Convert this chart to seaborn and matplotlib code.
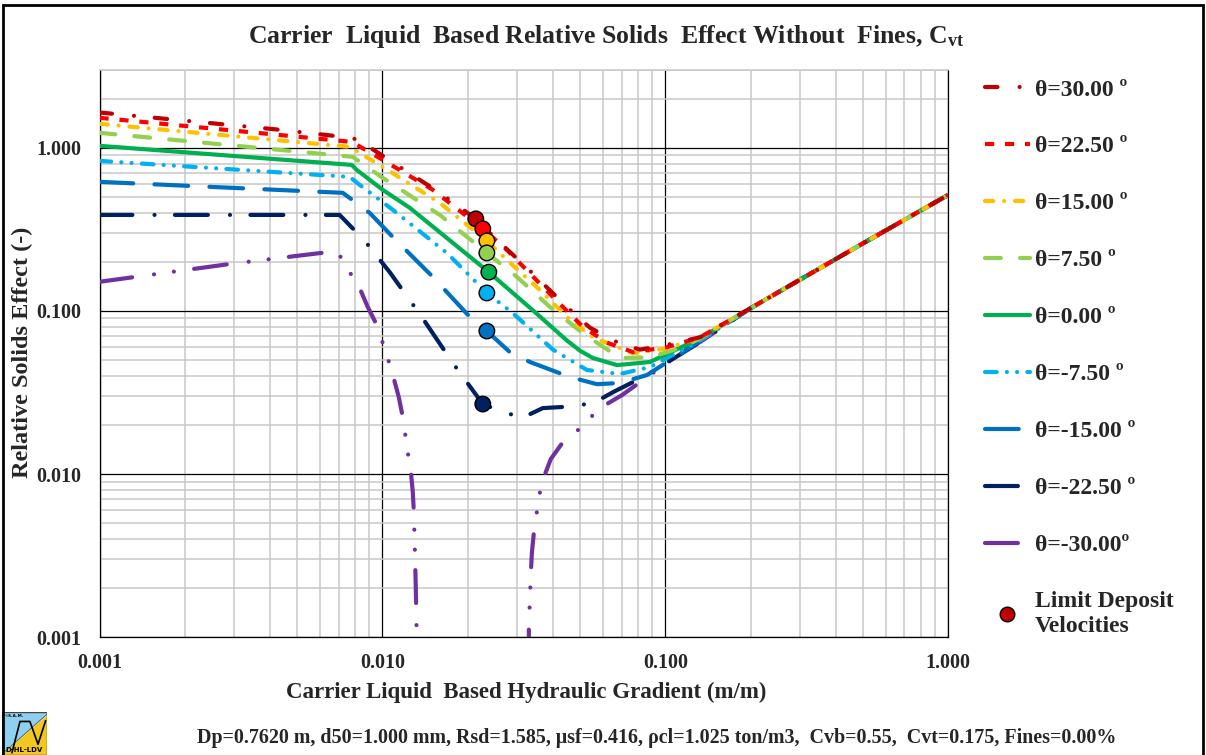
import numpy as np
import pandas as pd
import matplotlib
matplotlib.use("Agg")
import matplotlib.pyplot as plt
import seaborn as sns
from matplotlib.lines import Line2D
from matplotlib.patches import Rectangle, Polygon
from matplotlib.ticker import FixedLocator, NullFormatter, LogLocator

# ---------------- data ----------------
theta_labels = ["θ=30.00 º", "θ=22.50 º", "θ=15.00 º", "θ=7.50 º", "θ=0.00 º",
                "θ=-7.50 º", "θ=-15.00 º", "θ=-22.50 º", "θ=-30.00º"]
colors = ["#C00000", "#FF0000", "#FFC000", "#92D050", "#00B050",
          "#00B0F0", "#0070C0", "#002060", "#7030A0"]

tail_x = [0.2, 0.3, 0.5, 1.0]
tail_y = [0.104, 0.156, 0.26, 0.515]

x_p30 = [0.001, 0.00416, 0.00779, 0.00831, 0.00978, 0.01151, 0.01595, 0.02138, 0.02537, 0.0324, 0.04485, 0.05411, 0.06911, 0.08133, 0.1013, 0.1326]
y_p30 = [1.647, 1.30, 1.152, 1.104, 0.919, 0.764, 0.530, 0.367, 0.273, 0.184, 0.106, 0.079, 0.063, 0.058, 0.062, 0.069]

x_p22 = [0.001, 0.00779, 0.01002, 0.01506, 0.02263, 0.02752, 0.04003, 0.0511, 0.06214, 0.07683, 0.1013, 0.1326]
y_p22 = [1.528, 1.088, 0.844, 0.553, 0.319, 0.237, 0.122, 0.080, 0.064, 0.056, 0.060, 0.069]

x_p15 = [0.001, 0.00766, 0.01002, 0.01595, 0.02339, 0.02752, 0.03515, 0.04485, 0.05546, 0.07683, 0.1013, 0.1326]
y_p15 = [1.404, 1.014, 0.764, 0.460, 0.269, 0.206, 0.140, 0.092, 0.069, 0.055, 0.059, 0.069]

x_p7 = [0.001, 0.00785, 0.01002, 0.01595, 0.02339, 0.02985, 0.03906, 0.0511, 0.06911, 0.08822, 0.1154, 0.1326]
y_p7 = [1.236, 0.881, 0.655, 0.388, 0.227, 0.162, 0.106, 0.073, 0.0515, 0.052, 0.060, 0.068]

x_0 = [0.001, 0.00779, 0.00811, 0.01002, 0.01249, 0.02377, 0.03402, 0.04485, 0.05, 0.05546, 0.06745, 0.08822, 0.1326]
y_0 = [1.029, 0.786, 0.733, 0.553, 0.429, 0.173, 0.101, 0.066, 0.057, 0.0515, 0.0466, 0.0487, 0.068]

x_m7 = [0.001, 0.00766, 0.00831, 0.01088, 0.01689, 0.02339, 0.0289, 0.04003, 0.0528, 0.06911, 0.08822, 0.1326]
y_m7 = [0.832, 0.664, 0.593, 0.417, 0.227, 0.129, 0.097, 0.058, 0.0435, 0.0411, 0.0453, 0.066]

x_m15 = [0.001, 0.00724, 0.00766, 0.00902, 0.01088, 0.01506, 0.02036, 0.02339, 0.0282, 0.0332, 0.04596, 0.05728, 0.06911, 0.0861, 0.1326]
y_m15 = [0.619, 0.530, 0.493, 0.399, 0.284, 0.162, 0.092, 0.0754, 0.056, 0.0487, 0.0394, 0.0356, 0.0362, 0.0405, 0.0655]

x_m22 = [0.001, 0.00706, 0.00866, 0.01061, 0.01377, 0.01773, 0.02263, 0.02707, 0.03161, 0.0369, 0.04868, 0.05728, 0.06528, 0.0861, 0.1326]
y_m22 = [0.388, 0.388, 0.269, 0.173, 0.092, 0.048, 0.0269, 0.0237, 0.0224, 0.0254, 0.0261, 0.028, 0.0318, 0.0405, 0.0645]

x_m30a = [0.001, 0.00288, 0.00689, 0.00724, 0.00766, 0.00831, 0.00887, 0.00955, 0.01044, 0.01096, 0.01142, 0.0118, 0.01229, 0.0126, 0.0128, 0.01291, 0.01301, 0.01312, 0.01322, 0.01327]
y_m30a = [0.151, 0.194, 0.233, 0.205, 0.173, 0.138, 0.106, 0.082, 0.0515, 0.0388, 0.0297, 0.0224, 0.0136, 0.0104, 0.0078, 0.0059, 0.0036, 0.0020, 0.00099, 0.0007]

x_m30b = [0.0329, 0.03293, 0.03347, 0.03375, 0.0343, 0.03515, 0.03602, 0.03721, 0.03938, 0.04343, 0.04907, 0.05871, 0.07025, 0.0904, 0.1154, 0.1326]
y_m30b = [0.0007, 0.00115, 0.0025, 0.0033, 0.0044, 0.0059, 0.0077, 0.0096, 0.0124, 0.0157, 0.0186, 0.0254, 0.0305, 0.0417, 0.0576, 0.0645]

ldv_x = [0.02138, 0.02263, 0.02339, 0.02339, 0.02377, 0.02339, 0.02339, 0.02263]
ldv_y = [0.367, 0.319, 0.269, 0.227, 0.173, 0.129, 0.0754, 0.0269]

tick_vals = [0.001, 0.01, 0.1, 1.0]
tick_labels = ["0.001", "0.010", "0.100", "1.000"]

# ---------------- style ----------------
sns.set_theme(style="white")
plt.rcParams['font.family'] = ['Liberation Serif', 'DejaVu Serif']
plt.rcParams['font.weight'] = 'bold'
plt.rcParams['mathtext.fontset'] = 'custom'
plt.rcParams['mathtext.rm'] = 'Liberation Serif:bold'
plt.rcParams['mathtext.it'] = 'Liberation Serif:bold'
plt.rcParams['mathtext.bf'] = 'Liberation Serif:bold'

W, H = 1206, 755
fig = plt.figure(figsize=(W / 100, H / 100), dpi=100)
fig.patch.set_facecolor("white")

L, R, T, B = 99.5, 948.3, 70.0, 637.3
ax = fig.add_axes([L / W, 1 - B / H, (R - L) / W, (B - T) / H])
ax.set_xscale("log")
ax.set_yscale("log")

LW = 3.0
styles = [
    (0, (3.0, 5.3, 0.01, 5.0)),
    (0, (2.2, 2.6)),
    (0, (2.0, 2.6, 0.01, 2.6)),
    (0, (3.8, 4.6)),
    "-",
    (0, (2.8, 2.45, 0.01, 2.45, 0.01, 2.45)),
    (0, (8.1, 5.1)),
    (0, (7.9, 5.3, 0.01, 4.9)),
    (0, (7.9, 5.3, 0.01, 4.8, 0.01, 4.9)),
]
caps = ["round", "butt", "round", "round", "round", "round", "round", "round", "round"]

curves = [(x_p30, y_p30), (x_p22, y_p22), (x_p15, y_p15), (x_p7, y_p7), (x_0, y_0),
          (x_m7, y_m7), (x_m15, y_m15), (x_m22, y_m22), (x_m30a, y_m30a)]

order = list(range(9))[::-1]
for i in order:
    xs, ys = curves[i]
    if i < 8:
        xs = list(xs) + tail_x
        ys = list(ys) + tail_y
    sns.lineplot(x=xs, y=ys, ax=ax, color=colors[i], lw=LW, linestyle=styles[i],
                 sort=False, estimator=None, label=theta_labels[i],
                 dash_capstyle=caps[i], solid_capstyle="round", solid_joinstyle="round",
                 zorder=3)
    if i == 8:
        sns.lineplot(x=list(x_m30b) + tail_x, y=list(y_m30b) + tail_y, ax=ax,
                     color=colors[i], lw=LW, linestyle=styles[i], sort=False,
                     estimator=None, dash_capstyle="round", zorder=3)

ldv_names = theta_labels[:8]
sns.scatterplot(x=ldv_x, y=ldv_y, hue=ldv_names, hue_order=ldv_names,
                palette=colors[:8], s=125, edgecolor="black", linewidth=1.0,
                legend=False, ax=ax, zorder=6)

if ax.get_legend() is not None:
    ax.get_legend().remove()

ax.set_xlim(0.001, 1.0)
ax.set_ylim(0.001, 3.0)

ax.xaxis.set_major_locator(FixedLocator(tick_vals))
ax.yaxis.set_major_locator(FixedLocator(tick_vals))
ax.set_xticklabels(tick_labels)
ax.set_yticklabels(tick_labels)
ax.xaxis.set_minor_locator(LogLocator(base=10, subs=np.arange(2, 10), numticks=20))
ax.yaxis.set_minor_locator(LogLocator(base=10, subs=np.arange(2, 10), numticks=20))
ax.xaxis.set_minor_formatter(NullFormatter())
ax.yaxis.set_minor_formatter(NullFormatter())
ax.tick_params(which="both", length=0)
ax.tick_params(axis="x", labelsize=14.5, pad=11)
ax.tick_params(axis="y", labelsize=14.5, pad=13)
for lab in ax.get_xticklabels() + ax.get_yticklabels():
    lab.set_fontweight("bold")

ax.set_axisbelow(True)
ax.grid(which="minor", color="#c8c8c8", lw=1.1)
ax.grid(which="major", color="black", lw=0.9)
for s in ["left", "bottom", "right"]:
    ax.spines[s].set_color("black")
    ax.spines[s].set_linewidth(0.9)
ax.spines["top"].set_color("#c8c8c8")
ax.spines["top"].set_linewidth(1.1)
ax.set_xlabel("")
ax.set_ylabel("")

# ---------------- texts ----------------
fig.text(606 / W, 1 - 37 / H, r"Carrier  Liquid  Based Relative Solids  Effect Without  Fines, C$_{\mathrm{vt}}$",
         ha="center", va="center", fontsize=18.5, fontweight="bold")
fig.text(526 / W, 1 - 692 / H, "Carrier Liquid  Based Hydraulic Gradient (m/m)",
         ha="center", va="center", fontsize=16.5, fontweight="bold")
fig.text(22 / W, 1 - 352 / H, "Relative Solids Effect (-)", rotation=90,
         ha="center", va="center", fontsize=17.5, fontweight="bold")
fig.text(657 / W, 1 - 738 / H,
         "Dp=0.7620 m, d50=1.000 mm, Rsd=1.585, μsf=0.416, ρcl=1.025 ton/m3,  Cvb=0.55,  Cvt=0.175, Fines=0.00%",
         ha="center", va="center", fontsize=14.4, fontweight="bold")

# ---------------- legend ----------------
handles = []
for i in range(9):
    handles.append(Line2D([], [], color=colors[i], lw=LW, linestyle=styles[i],
                          dash_capstyle=caps[i], solid_capstyle="round"))
handles.append(Line2D([], [], marker="o", ls="none", markersize=10.5,
                      markerfacecolor="#C00000", markeredgecolor="black", markeredgewidth=1.0))
labels = theta_labels + ["Limit Deposit\nVelocities"]
fig.legend(handles, labels, loc="upper left", bbox_to_anchor=(985 / W, 1 - 79 / H),
           frameon=False, prop={"family": "Liberation Serif", "weight": "bold", "size": 17},
           handlelength=1.9, handletextpad=0.2, labelspacing=1.5, borderpad=0, borderaxespad=0)

# ---------------- frame & logo ----------------
fig.patches.append(Rectangle((3 / W, -0.05), 1200 / W, 1.05 - 5 / H, transform=fig.transFigure,
                             fill=False, edgecolor="black", lw=2.0, zorder=0))

lax = fig.add_axes([2 / W, 0, 45 / W, 43 / H])
lax.set_xlim(0, 1)
lax.set_ylim(0, 1)
lax.axis("off")
lax.add_patch(Polygon([[0, 0], [0, 1], [1, 1], [1, 0.92]], closed=True, facecolor="#8FD0F0", edgecolor="none"))
lax.add_patch(Polygon([[0, 0], [1, 0.92], [1, 0]], closed=True, facecolor="#F2C81E", edgecolor="none"))
lax.plot([0, 1], [0.02, 0.95], color="#555555", lw=0.6)
lax.plot([0.22, 0.4, 0.62, 0.8, 0.97], [0.05, 0.78, 0.78, 0.25, 0.8], color="black", lw=1.2)
lax.add_patch(Rectangle((0, 0), 1, 1, fill=False, edgecolor="#444444", lw=1.0))
lax.text(0.5, 0.12, "D-HL-LDV", ha="center", va="center", fontsize=5, family="DejaVu Sans", color="black")
lax.text(0.05, 0.9, "©S.A.M.", ha="left", va="center", fontsize=3, family="DejaVu Sans", color="black")

fig.savefig("out.png", dpi=100, facecolor="white")
